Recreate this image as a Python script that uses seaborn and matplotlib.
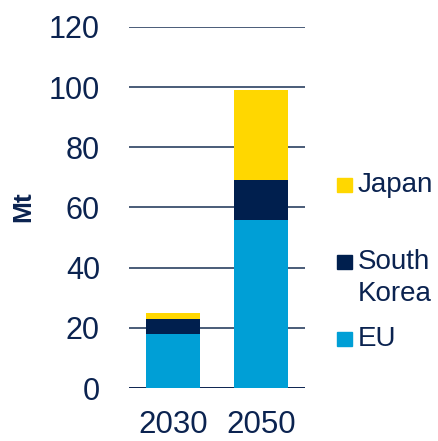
import matplotlib
matplotlib.use("Agg")
import matplotlib.pyplot as plt
import seaborn as sns
import pandas as pd
from matplotlib.patches import Rectangle

# Production by region, Mt
years = ["2030", "2050"]
eu = [18, 56]
south_korea = [5, 13]
japan = [2, 30]

series_names = ["EU", "South Korea", "Japan"]
legend_labels = {"EU": "EU", "South Korea": "South\nKorea", "Japan": "Japan"}
colors = {"EU": "#009FD6", "South Korea": "#001F4E", "Japan": "#FFD700"}
yticks = [0, 20, 40, 60, 80, 100, 120]

text_color = "#0B2350"
grid_color = "#4A5C78"

sns.set_theme(style="white")
plt.rcParams["font.family"] = ["Liberation Sans", "DejaVu Sans"]

df = pd.DataFrame({"year": years, "EU": eu, "South Korea": south_korea, "Japan": japan})

fig = plt.figure(figsize=(4.39, 4.41), dpi=100)
ax = fig.add_axes([0.294, 0.120, 0.401, 0.819])

# Gridlines behind the bars
for v in yticks:
    ax.axhline(v, color=grid_color if v else text_color, lw=1.4, zorder=0)

bottom = pd.Series([0] * len(years), dtype=float)
for name in series_names:
    sns.barplot(data=df, x="year", y=name, bottom=bottom.values, color=colors[name],
                width=0.62, saturation=1, ax=ax, zorder=2, linewidth=0)
    bottom = bottom + df[name]

ax.set_xlim(-0.5, 1.5)
ax.set_ylim(0, 120)
ax.set_yticks(yticks)
ax.set_yticklabels([str(v) for v in yticks])
ax.tick_params(axis="y", length=0, pad=21, labelsize=22, labelcolor=text_color)
ax.tick_params(axis="x", length=0, pad=16, labelsize=22.5, labelcolor=text_color)
ax.set_xlabel("")
ax.set_ylabel("")
for s in ax.spines.values():
    s.set_visible(False)

fig.text(23 / 439, 1 - 207 / 441, "Mt", rotation=90, ha="center", va="center",
         fontsize=19, fontweight="bold", color=text_color)

# Legend drawn as swatches with labels, Japan on top
W, H = 439, 441
legend_rows = [("Japan", 185), ("South Korea", 262), ("EU", 339)]
for name, yc in legend_rows:
    fig.patches.append(Rectangle((337 / W, 1 - (yc + 7) / H), 15 / W, 14 / H,
                                 transform=fig.transFigure, color=colors[name],
                                 figure=fig))
    fig.text(358 / W, 1 - yc / H, legend_labels[name].split("\n")[0], ha="left",
             va="center", fontsize=20, color=text_color)
    if "\n" in legend_labels[name]:
        fig.text(358 / W, 1 - (yc + 32) / H, legend_labels[name].split("\n")[1],
                 ha="left", va="center", fontsize=20, color=text_color)

fig.savefig("out.png", dpi=100)
